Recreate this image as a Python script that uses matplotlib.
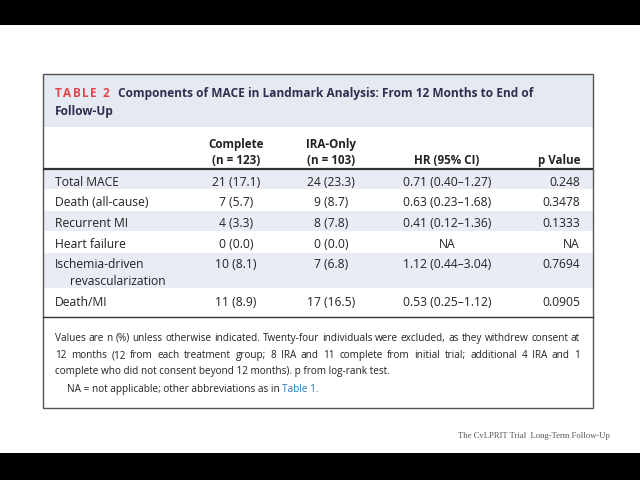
import matplotlib
matplotlib.use("Agg")
import matplotlib.pyplot as plt
from matplotlib.patches import Rectangle

# ---- data ----
outcomes = ["Total MACE", "Death (all-cause)", "Recurrent MI", "Heart failure",
            "Ischemia-driven", "Death/MI"]
outcome_cont = ["", "", "", "", "revascularization", ""]
complete = ["21 (17.1)", "7 (5.7)", "4 (3.3)", "0 (0.0)", "10 (8.1)", "11 (8.9)"]
ira_only = ["24 (23.3)", "9 (8.7)", "8 (7.8)", "0 (0.0)", "7 (6.8)", "17 (16.5)"]
hr_ci = ["0.71 (0.40\u20131.27)", "0.63 (0.23\u20131.68)", "0.41 (0.12\u20131.36)", "NA",
         "1.12 (0.44\u20133.04)", "0.53 (0.25\u20131.12)"]
p_values = ["0.248", "0.3478", "0.1333", "NA", "0.7694", "0.0905"]
col_heads = [("Complete", "(n = 123)"), ("IRA-Only", "(n = 103)"), ("", "HR (95% CI)"), ("", "p Value")]
title_tag = "TABLE 2"
title_l1 = "Components of MACE in Landmark Analysis: From 12 Months to End of"
title_l2 = "Follow-Up"
foot_lines = [
    "Values are n (%) unless otherwise indicated. Twenty-four individuals were excluded, as they withdrew consent at",
    "12 months (12 from each treatment group; 8 IRA and 11 complete from initial trial; additional 4 IRA and 1",
    "complete who did not consent beyond 12 months). p from log-rank test.",
]
foot_na = "NA = not applicable; other abbreviations as in "
foot_link = "Table 1."
caption = "The CvLPRIT Trial  Long-Term Follow-Up"

FONT = ["Open Sans", "DejaVu Sans"]
TXT = "#222222"
NAVY = "#2c2f4e"
SHADE = "#e9ecf4"
BAND = "#e5e9f1"

fig = plt.figure(figsize=(6.4, 4.8), dpi=100)
ax = fig.add_axes([0, 0, 1, 1])
ax.set_xlim(0, 640)
ax.set_ylim(480, 0)
ax.axis("off")
fig.canvas.draw()
renderer = fig.canvas.get_renderer()

# black bars
ax.add_patch(Rectangle((0, 0), 640, 25, color="black", lw=0))
ax.add_patch(Rectangle((0, 453), 640, 27, color="black", lw=0))

L, R, T, B = 43, 593, 74, 408
ax.add_patch(Rectangle((L, T), R - L, 127 - T, color=BAND, lw=0))

# title (letter-spaced tag)
x = 55
for ch in title_tag:
    t = ax.text(x, 92, ch, color="#e0474c", fontsize=8.5, fontweight="bold",
                family=FONT, va="center_baseline", ha="left")
    x += t.get_window_extent(renderer).width + 1.5
ax.text(118, 92, title_l1, color=NAVY, fontsize=8.6, fontweight="bold",
        family=FONT, va="center_baseline", ha="left")
ax.text(55, 110, title_l2, color=NAVY, fontsize=8.6, fontweight="bold",
        family=FONT, va="center_baseline", ha="left")

# column headers
cx = [236, 331, 447, 580]
for i, (h1, h2) in enumerate(col_heads):
    ha = "right" if i == 3 else "center"
    if h1:
        ax.text(cx[i], 143, h1, fontsize=8.4, fontweight="bold", family=FONT,
                color=TXT, va="center_baseline", ha=ha)
    ax.text(cx[i], 159, h2, fontsize=8.4, fontweight="bold", family=FONT,
            color=TXT, va="center_baseline", ha=ha)

ax.plot([L, R], [169, 169], color="#333333", lw=1.6, solid_capstyle="butt")

# rows
FSR = 8.7
row_tops = [169, 189, 210, 231, 252, 288]
row_bots = [189, 210, 231, 252, 288, 317]
row_y = [181, 201, 222, 243, 263, 301]
for i in range(len(outcomes)):
    if i % 2 == 0:
        ax.add_patch(Rectangle((L, row_tops[i] + 1), R - L, row_bots[i] - row_tops[i] - 1,
                               color=SHADE, lw=0))
    y = row_y[i]
    kw = dict(fontsize=FSR, family=FONT, color=TXT, va="center_baseline")
    ax.text(55, y, outcomes[i], ha="left", **kw)
    if outcome_cont[i]:
        ax.text(70, y + 17, outcome_cont[i], ha="left", **kw)
    ax.text(cx[0], y, complete[i], ha="center", **kw)
    ax.text(cx[1], y, ira_only[i], ha="center", **kw)
    ax.text(cx[2], y, hr_ci[i], ha="center", **kw)
    ax.text(cx[3], y, p_values[i], ha="right", **kw)

ax.plot([L, R], [317, 317], color="#333333", lw=1.0)

# footnote (justified first two lines)
foot_y = [337, 354, 370]
FS = 7.2
for li, line in enumerate(foot_lines):
    y = foot_y[li]
    if li < 2:
        words = line.split(" ")
        texts = [ax.text(0, y, w, fontsize=FS, family=FONT, color=TXT,
                         va="center_baseline", ha="left") for w in words]
        widths = [t.get_window_extent(renderer).width for t in texts]
        gap = (580 - 55 - sum(widths)) / (len(words) - 1)
        x = 55
        for t, w in zip(texts, widths):
            t.set_x(x)
            x += w + gap
    else:
        ax.text(55, y, line, fontsize=FS, family=FONT, color=TXT,
                va="center_baseline", ha="left")

t_na = ax.text(67, 388, foot_na, fontsize=FS, family=FONT, color=TXT,
               va="center_baseline", ha="left")
w_na = t_na.get_window_extent(renderer).width
ax.text(67 + w_na, 388, foot_link, fontsize=FS, family=FONT, color="#2a77b0",
        va="center_baseline", ha="left")

# box border
ax.add_patch(Rectangle((L, T), R - L, B - T, fill=False, ec="#555555", lw=1.0))

ax.text(610, 436, caption, fontsize=6.2, family=["Liberation Serif", "DejaVu Serif"],
        color="#555555", va="center", ha="right")

fig.savefig("out.png", dpi=100, facecolor="white")
